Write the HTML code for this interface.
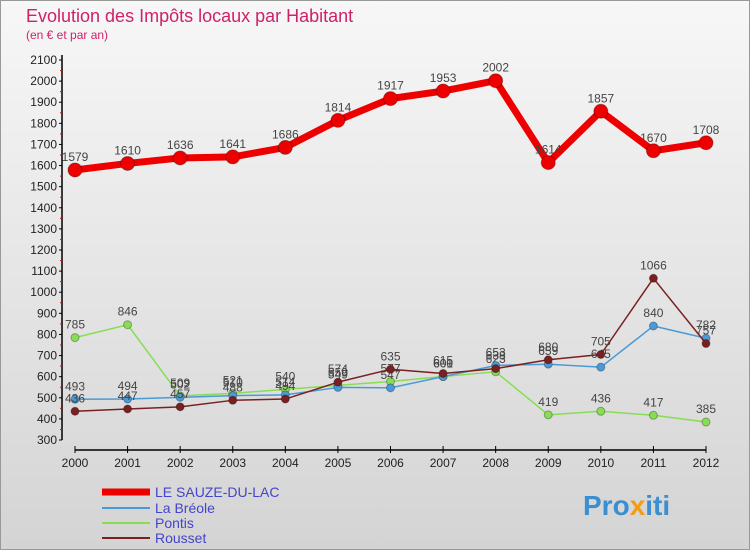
<!DOCTYPE html>
<html><head><meta charset="utf-8"><style>
body{margin:0;width:750px;height:550px;overflow:hidden;font-family:"Liberation Sans",sans-serif}
</style></head><body>
<svg width="750" height="550" xmlns="http://www.w3.org/2000/svg">
<defs><linearGradient id="bg" x1="0" y1="0" x2="0" y2="1"><stop offset="0" stop-color="#f7f7f7"/><stop offset="1" stop-color="#d4d4d4"/></linearGradient></defs>
<rect x="0.5" y="0.5" width="749" height="549" fill="url(#bg)" stroke="#999"/>
<text x="26" y="22" font-size="18" fill="#d0206a">Evolution des Impôts locaux par Habitant</text>
<text x="26" y="39" font-size="12" fill="#d0206a">(en € et par an)</text>
<g id="axes"></g><g id="series"></g>
<g>
<line x1="102" y1="492" x2="150" y2="492" stroke="#e00" stroke-width="7"/>
<text x="155" y="497" font-size="14" fill="#44c">LE SAUZE-DU-LAC</text>
<line x1="102" y1="508" x2="150" y2="508" stroke="#4a9ad8" stroke-width="2"/>
<text x="155" y="513" font-size="14" fill="#44c">La Bréole</text>
<line x1="102" y1="523" x2="150" y2="523" stroke="#88dd55" stroke-width="2"/>
<text x="155" y="528" font-size="14" fill="#44c">Pontis</text>
<line x1="102" y1="538" x2="150" y2="538" stroke="#7a2020" stroke-width="2"/>
<text x="155" y="543" font-size="14" fill="#44c">Rousset</text>
</g>
<text x="583" y="515" font-size="28" font-weight="bold" fill="#3a8fd0">Pro<tspan fill="#f39c12">x</tspan>iti</text>
</svg>
<script>
const years=[2000,2001,2002,2003,2004,2005,2006,2007,2008,2009,2010,2011,2012];
const yTicks=[300,400,500,600,700,800,900,1000,1100,1200,1300,1400,1500,1600,1700,1800,1900,2000,2100];
const sauze=[1579,1610,1636,1641,1686,1814,1917,1953,2002,1614,1857,1670,1708];
const breole=[493,494,502,510,514,549,547,600,653,659,645,840,782];
const pontis=[785,846,509,521,540,559,577,601,623,419,436,417,385];
const rousset=[436,447,457,488,494,574,635,615,638,680,705,1066,757];
const NS="http://www.w3.org/2000/svg";
const X=i=>75+i*(706-75)/12;
const Y=v=>440-(v-300)*(380/1800);
function mk(t,a,p){const e=document.createElementNS(NS,t);for(const k in a)e.setAttribute(k,a[k]);p.appendChild(e);return e;}
const ax=document.getElementById('axes');
let l=mk('line',{x1:62,y1:55,x2:62,y2:440,stroke:'#000','stroke-width':1.5},ax);


l=mk('line',{x1:75,y1:450,x2:706,y2:450,stroke:'#000','stroke-width':1.5},ax);


yTicks.forEach((v,i)=>{
 mk('line',{x1:59,y1:Y(v),x2:62,y2:Y(v),stroke:'#000'},ax);
 if(i<yTicks.length-1)mk('line',{x1:60,y1:Y(v+50),x2:62,y2:Y(v+50),stroke:'#e00'},ax);
 const t=mk('text',{x:57,y:Y(v)+4,'font-size':12,'text-anchor':'end',fill:'#222'},ax);
 t.textContent=v;
 
 
});
years.forEach((y,i)=>{
 mk('line',{x1:X(i),y1:446,x2:X(i),y2:453,stroke:'#000'},ax);
 const t=mk('text',{x:X(i),y:467,'font-size':12,'text-anchor':'middle',fill:'#222'},ax);
 t.textContent=y;
 
 
});
const sg=document.getElementById('series');
function series(data,color,w,r,name){
 const g=mk('g',{},sg);
 
 
 const p=mk('polyline',{points:data.map((v,i)=>X(i)+','+Y(v)).join(' '),fill:'none',stroke:color,'stroke-width':w,'stroke-linejoin':'round'},g);
 
 
 data.forEach((v,i)=>{
  const c=mk('circle',{cx:X(i),cy:Y(v),r:r,fill:color,stroke:'rgba(0,0,0,0.3)'},g);
  
  
  const t=mk('text',{x:X(i),y:Y(v)-9,'font-size':12,'text-anchor':'middle',fill:'#444'},g);
  t.textContent=v;
  
  
 });
}
series(pontis,'#88dd55',1.5,4,'pontis');
series(breole,'#4a9ad8',1.5,4,'breole');
series(rousset,'#7a2020',1.5,4,'rousset');
series(sauze,'#ee0000',7,7,'sauze');
</script>
</body></html>
